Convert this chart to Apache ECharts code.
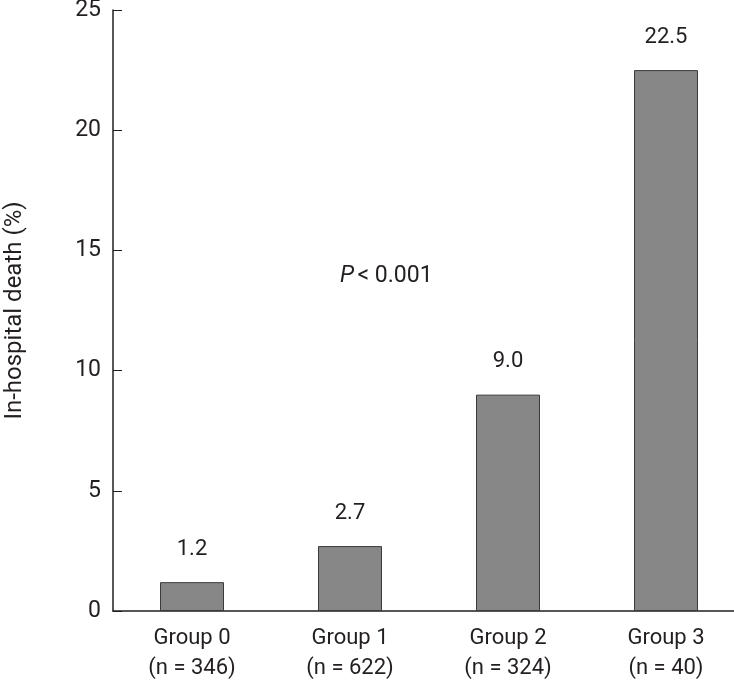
<!DOCTYPE html>
<html>
<head>
<meta charset="utf-8">
<script src="https://cdn.jsdelivr.net/npm/echarts@6/dist/echarts.min.js"></script>
<style>
html,body{margin:0;padding:0;background:#fff;}
#chart{width:734px;height:684px;}
</style>
</head>
<body>
<div id="chart"></div>
<script>
var categories = ['Group 0\n(n = 346)', 'Group 1\n(n = 622)', 'Group 2\n(n = 324)', 'Group 3\n(n = 40)'];
var deathRates = [1.2, 2.7, 9.0, 22.5];
var valueLabels = ['1.2', '2.7', '9.0', '22.5'];
var yTicks = [0, 5, 10, 15, 20, 25];
var yAxisTitle = 'In-hospital death (%)';
var pText = '< 0.001';

var FONT = "'Roboto', 'Liberation Sans', sans-serif";
var INK = '#231f20';

var chart = echarts.init(document.getElementById('chart'), null, {renderer: 'canvas'});
chart.setOption({
  animation: false,
  backgroundColor: '#fff',
  grid: {left: 113, right: -11, top: 10, bottom: 73, containLabel: false, outerBoundsMode: 'none'},
  xAxis: {
    type: 'category',
    data: categories,
    boundaryGap: true,
    axisLine: {lineStyle: {color: INK, width: 1.5}},
    axisTick: {show: false},
    axisLabel: {color: INK, fontFamily: FONT, fontSize: 22, lineHeight: 30, margin: 12}
  },
  yAxis: {
    type: 'value',
    min: yTicks[0],
    max: yTicks[yTicks.length - 1],
    interval: 5,
    name: yAxisTitle,
    nameLocation: 'middle',
    nameGap: 86,
    nameTextStyle: {color: INK, fontFamily: FONT, fontSize: 24},
    splitLine: {show: false},
    axisLine: {show: true, lineStyle: {color: INK, width: 1.5}},
    axisTick: {show: true, inside: true, length: 9, lineStyle: {color: INK, width: 1}},
    axisLabel: {color: INK, fontFamily: FONT, fontSize: 23, margin: 12}
  },
  series: [{
    type: 'bar',
    data: deathRates,
    barWidth: 64,
    itemStyle: {color: '#878787', borderColor: '#3a3a3a', borderWidth: 1},
    label: {
      show: true,
      position: 'top',
      distance: 22,
      color: INK,
      fontFamily: FONT,
      fontSize: 22,
      formatter: function (p) { return valueLabels[p.dataIndex]; }
    }
  }],
  graphic: [{
    type: 'text',
    left: 340,
    top: 265,
    style: {
      rich: {
        i: {fontStyle: 'italic', fontFamily: FONT, fontSize: 23, fill: INK},
        n: {fontFamily: FONT, fontSize: 23, fill: INK}
      },
      text: '{i|P} {n|' + pText + '}'
    }
  }]
});
</script>
</body>
</html>
